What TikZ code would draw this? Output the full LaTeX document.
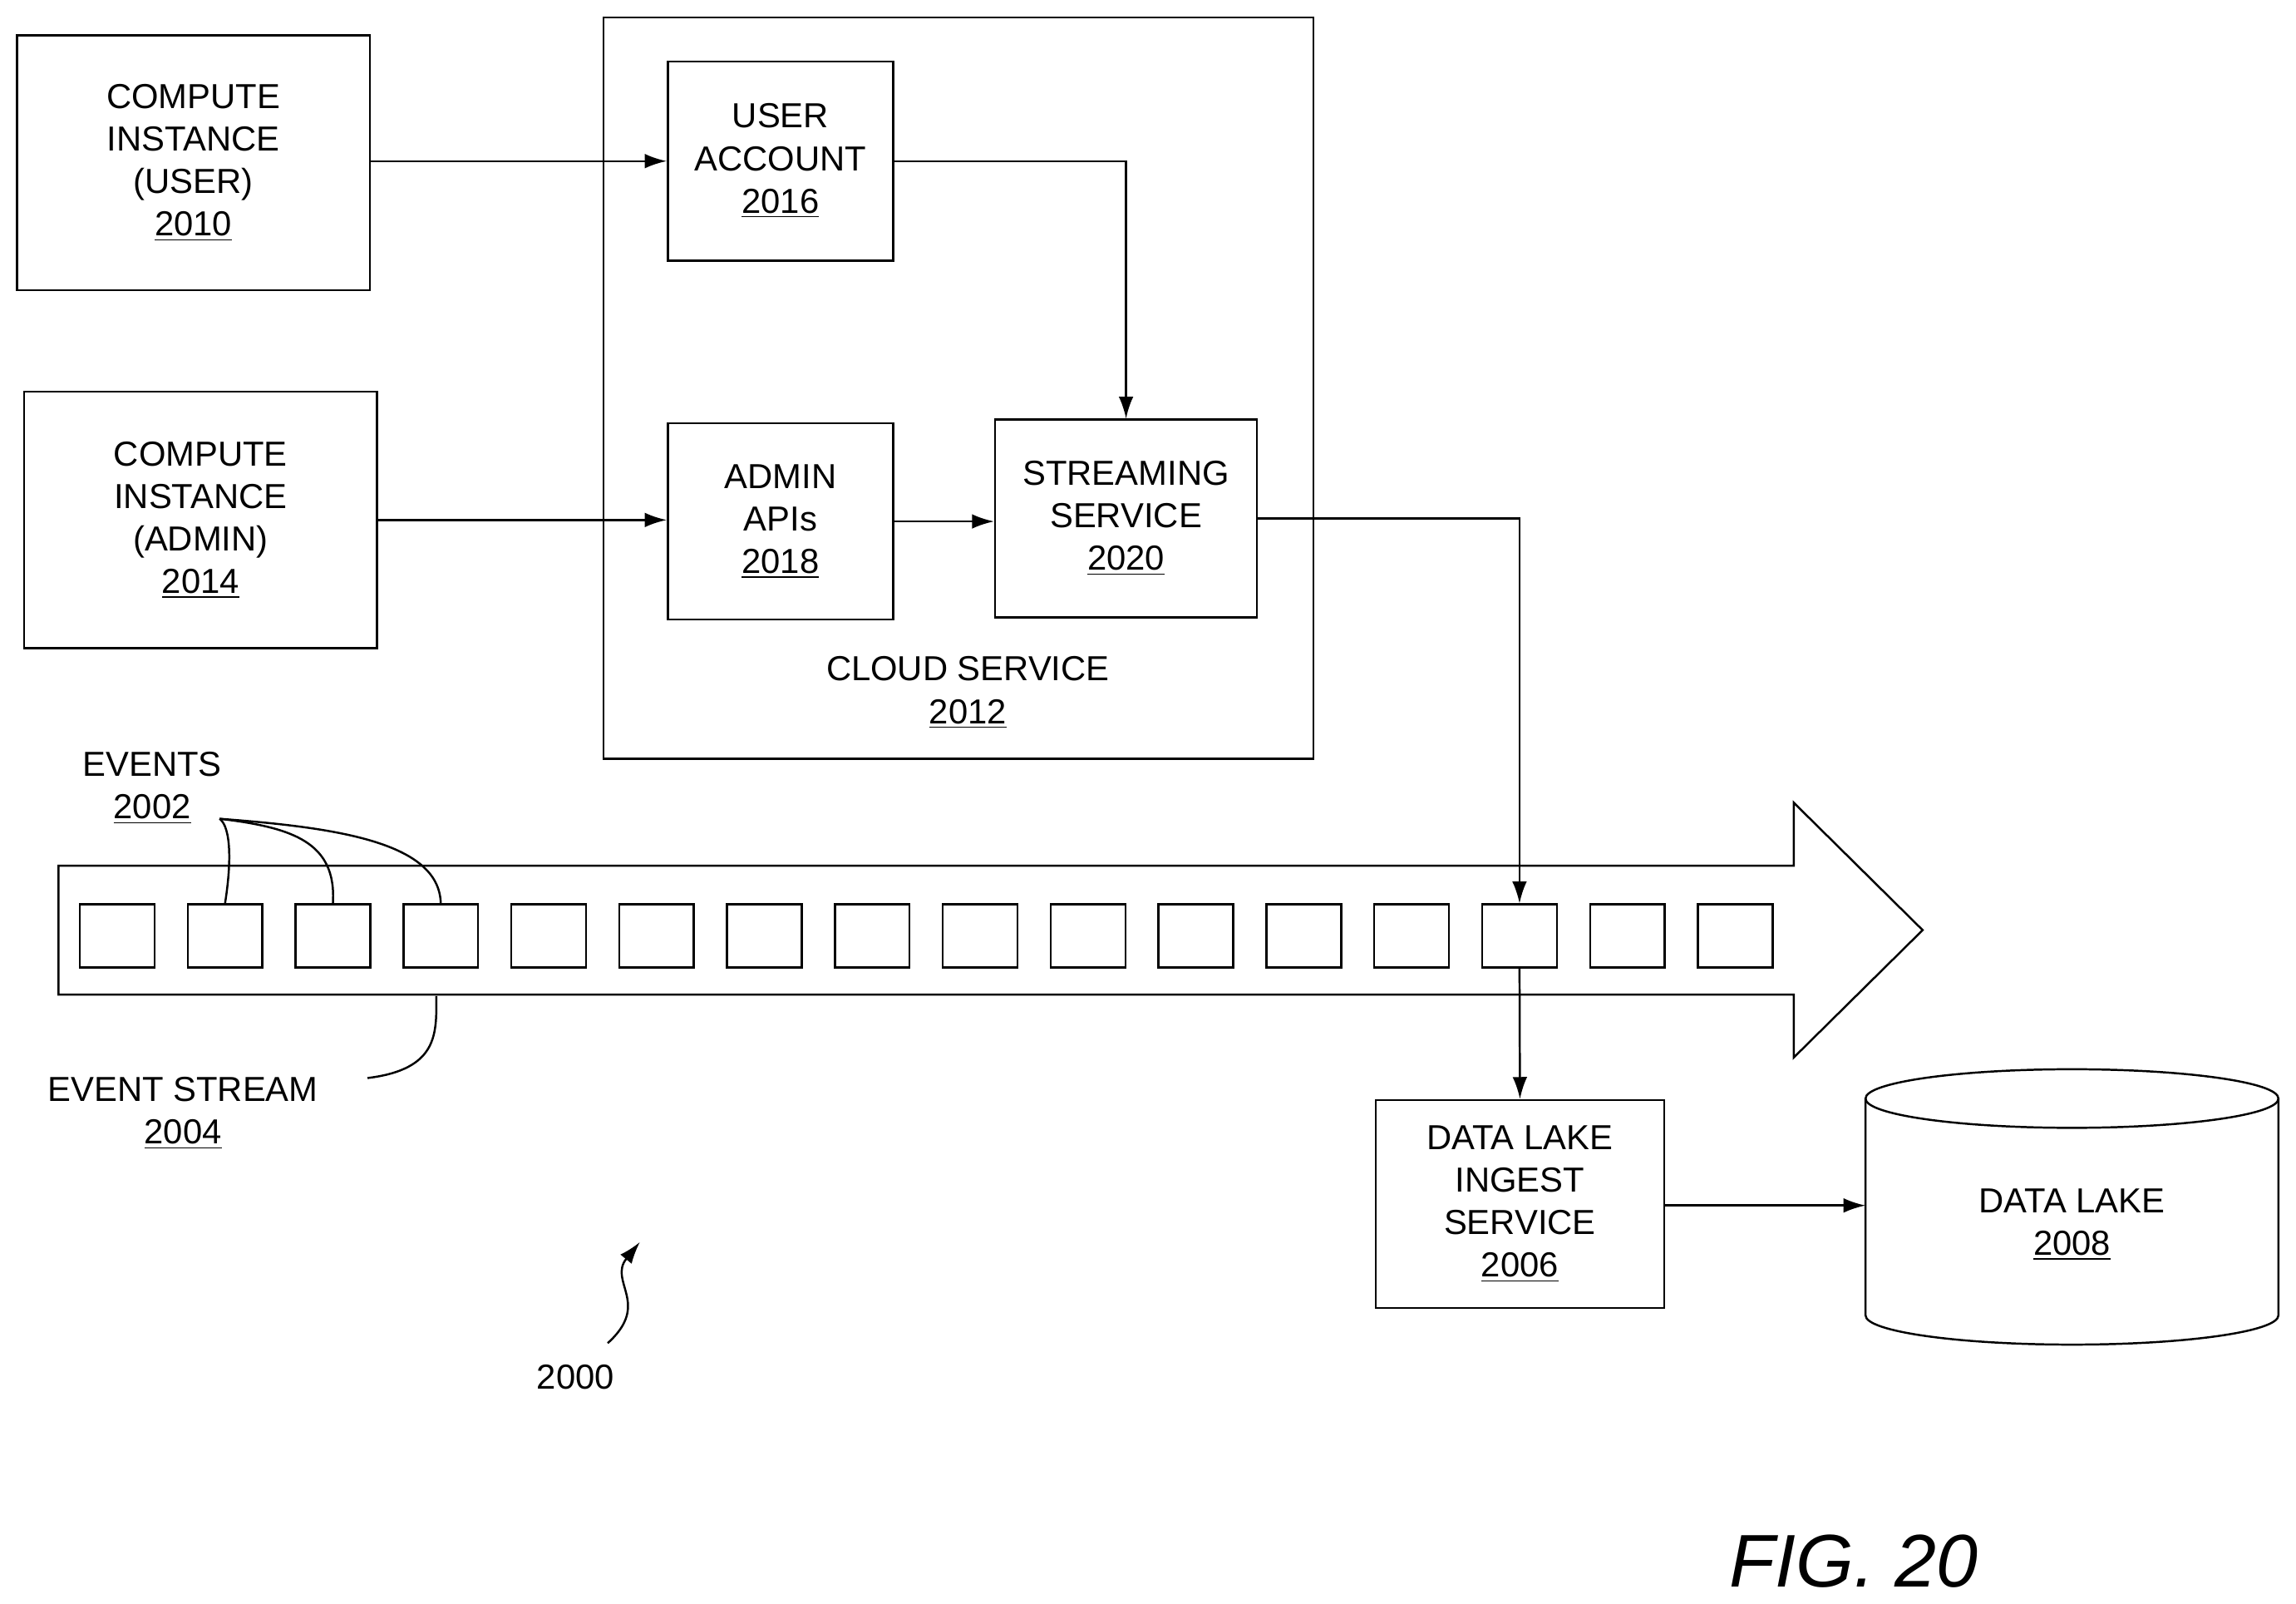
\documentclass[tikz,border=0pt]{standalone}
\usepackage{fontspec}
\setmainfont{Liberation Sans}
\usetikzlibrary{arrows.meta, calc}

\tikzset{
    box/.style={draw, thick, align=center, inner sep=0pt,
        font=\fontsize{13.5}{16.5}\selectfont},
    evt/.style={draw, thick, minimum width=1.02cm, minimum height=0.86cm, inner sep=0pt},
    lbl/.style={align=center, font=\fontsize{13.5}{16.5}\selectfont},
    flow/.style={thick, -{Latex[length=0.3cm, width=0.2cm]}},
}

\begin{document}
\begin{tikzpicture}[x=0.02cm, y=-0.02cm]
    \useasboundingbox (0,0) rectangle (1568,1095);
    % Outer cloud
    \draw[thick] (412,12) rectangle (897,518);
    \node[lbl] (cloudlbl) at (661,473) {CLOUD SERVICE\\\underline{2012}};
    % Compute instances
    \node[box, minimum width=4.82cm, minimum height=3.48cm] (ciuser) at (132,111) {COMPUTE\\INSTANCE\\(USER)\\\underline{2010}};
    \node[box, minimum width=4.82cm, minimum height=3.5cm] (ciadmin) at (137,355) {COMPUTE\\INSTANCE\\(ADMIN)\\\underline{2014}};
    % Inside cloud
    \node[box, minimum width=3.08cm, minimum height=2.72cm] (account) at (533,110) {USER\\ACCOUNT\\\underline{2016}};
    \node[box, minimum width=3.08cm, minimum height=2.68cm] (apis) at (533,356) {ADMIN\\APIs\\\underline{2018}};
    \node[box, minimum width=3.58cm, minimum height=2.7cm] (stream) at (769,354) {STREAMING\\SERVICE\\\underline{2020}};
    % Event stream arrow
    \draw[thick] (40,591) -- (1225,591) -- (1225,548) -- (1313,635) -- (1225,722)
        -- (1225,679) -- (40,679) -- cycle;
    \foreach \i in {1,...,16} {
        \node[evt] (e\i) at ({80+73.67*(\i-1)},639) {};
    }
    % Ingest and lake
    \node[box, minimum width=3.94cm, minimum height=2.84cm] (ingest) at (1038,822) {DATA LAKE\\INGEST\\SERVICE\\\underline{2006}};
    \draw[thick] (1274,750) -- (1274,898) arc[start angle=180, end angle=0, x radius=141, y radius=20]
        -- (1556,750);
    \draw[thick] (1415,750) ellipse[x radius=141, y radius=20];
    \node[lbl] (lake) at (1415,836) {DATA LAKE\\\underline{2008}};
    \coordinate (lakein) at (1274,823);
    % Connectors
    \draw[flow] (ciuser.east |- account.west) -- (account.west);
    \draw[flow] (account.east) -| (stream.north);
    \draw[flow] (ciadmin.east) -- (ciadmin.east -| apis.west);
    \draw[flow] (apis.east) -- (apis.east -| stream.west);
    \draw[flow] (stream.east) -| (e14.north);
    \draw[flow] (e14.south) -- (ingest.north);
    \draw[flow] (ingest.east |- lakein) -- (lakein);
    % Labels
    \node[lbl] (events) at (104,538) {EVENTS\\\underline{2002}};
    \draw[thick] (150,559) .. controls (158,565) and (158,590) .. (e2.north);
    \draw[thick] (150,559) .. controls (200,565) and (230,575) .. (e3.north);
    \draw[thick] (150,559) .. controls (230,565) and (300,575) .. (e4.north);
    \node[lbl] (evstream) at (125,760) {EVENT STREAM\\\underline{2004}};
    \draw[thick] (251,736) .. controls (300,730) and (298,705) .. (298,680);
    \node[lbl] (fignum) at (393,940) {2000};
    \draw[thick, -{Latex[length=0.3cm, width=0.2cm]}] (415,917) .. controls (445,890) and (415,875) .. (437,848);
    \node[font=\fontsize{29}{34}\selectfont\itshape] (fig) at (1266,1066) {FIG. 20};
\end{tikzpicture}
\end{document}
